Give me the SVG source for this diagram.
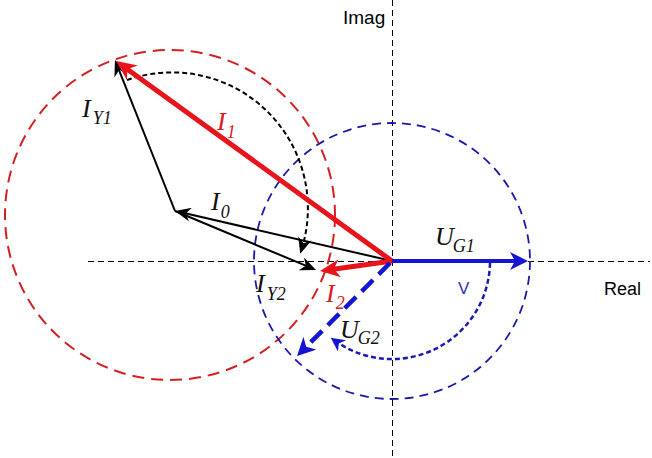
<svg xmlns="http://www.w3.org/2000/svg" width="652" height="458" viewBox="0 0 652 458">
<style>
.axis{stroke:#000;stroke-width:1;stroke-dasharray:6 4;fill:none}
.rc{stroke:#d42020;stroke-width:2;stroke-dasharray:12 7;fill:none}
.bc{stroke:#1a1aa8;stroke-width:1.8;stroke-dasharray:9 6;fill:none}
.blk{stroke:#000;stroke-width:2;fill:none}
.red{stroke:#e8141c;stroke-width:5;fill:none}
.blu{stroke:#1414d2;stroke-width:4;fill:none}
.bld{stroke:#1414d2;stroke-width:4.5;stroke-dasharray:16 8;fill:none}
.karc{stroke:#000;stroke-width:2;stroke-dasharray:5 3;fill:none}
.barc{stroke:#1a1ab4;stroke-width:2.5;stroke-dasharray:5 3;fill:none}
.lab{font-family:"Liberation Serif","Times New Roman",serif;font-style:italic;font-size:26px;fill:#111}
.sub{font-size:18px}
.rl{fill:#d82020}
.ax{font-family:"Liberation Sans",Arial,sans-serif;font-size:18px;fill:#000}
</style>
<defs>
<marker id="ak" viewBox="-16 -7 16 14" refX="-6" refY="0" markerWidth="16" markerHeight="14" markerUnits="userSpaceOnUse" orient="auto"><path d="M0,0 L-16,-7 L-11,0 L-16,7 z" fill="#000"/></marker>
<marker id="ar" viewBox="-20 -9 20 18" refX="-8" refY="0" markerWidth="20" markerHeight="18" markerUnits="userSpaceOnUse" orient="auto"><path d="M0,0 L-20,-9 L-14,0 L-20,9 z" fill="#e8141c"/></marker>
<marker id="ab" viewBox="-18 -9 18 18" refX="-8" refY="0" markerWidth="18" markerHeight="18" markerUnits="userSpaceOnUse" orient="auto"><path d="M0,0 L-18,-9 L-13,0 L-18,9 z" fill="#1414d2"/></marker>
<marker id="abs" viewBox="-14 -7 14 14" refX="-4" refY="0" markerWidth="14" markerHeight="14" markerUnits="userSpaceOnUse" orient="auto"><path d="M0,0 L-14,-7 L-10,0 L-14,7 z" fill="#1414d2"/></marker>
</defs>
<g id="axes">
<line class="axis" x1="88" y1="261.5" x2="650" y2="261.5"/>
<line class="axis" x1="392.5" y1="0" x2="392.5" y2="458"/>
</g>
<g id="circles">
<circle class="rc" cx="170" cy="215" r="165"/>
<circle class="bc" cx="392" cy="261" r="138"/>
</g>
<g id="connectors">
<path class="karc" d="M127,80 A136,136 0 0 1 302,248" marker-end="url(#ak)"/>
<path class="barc" d="M490,263 A98,98 0 0 1 334,340" marker-end="url(#abs)"/>
<line class="blk" x1="175" y1="211" x2="117.2" y2="65.6" marker-end="url(#ak)"/>
<line class="blk" x1="392" y1="261" x2="180.8" y2="212.3" marker-end="url(#ak)"/>
<line class="blk" x1="175" y1="211" x2="310.5" y2="267.7" marker-end="url(#ak)"/>
<line class="red" x1="392" y1="261" x2="122.5" y2="65.7" marker-end="url(#ar)"/>
<line class="red" x1="392" y1="261" x2="327.9" y2="269.9" marker-end="url(#ar)"/>
<line class="blu" x1="392" y1="261" x2="520" y2="261" marker-end="url(#ab)"/>
<line class="bld" x1="390" y1="263" x2="302.7" y2="350.3" marker-end="url(#ab)"/>
</g>
<g id="label-imag"><text class="ax" x="343" y="24" style="font-size:19px">Imag</text></g>
<g id="label-real"><text class="ax" x="604" y="295">Real</text></g>
<g id="label-v"><text class="ax" x="458" y="294" style="fill:#3030c0;font-size:17px">V</text></g>
<g id="label-IY1"><text class="lab" x="82" y="117">I<tspan class="sub" dx="2" dy="7">Y1</tspan></text></g>
<g id="label-I1"><text class="lab rl" x="217" y="130">I<tspan class="sub" dx="1" dy="8">1</tspan></text></g>
<g id="label-I0"><text class="lab" x="211" y="210">I<tspan class="sub" dx="1" dy="8">0</tspan></text></g>
<g id="label-IY2"><text class="lab" x="256" y="292">I<tspan class="sub" dx="2" dy="8">Y2</tspan></text></g>
<g id="label-I2"><text class="lab rl" x="326" y="302">I<tspan class="sub" dx="1" dy="7">2</tspan></text></g>
<g id="label-UG1"><text class="lab" x="435" y="245">U<tspan class="sub" dx="-1" dy="7">G1</tspan></text></g>
<g id="label-UG2"><text class="lab" x="340" y="338">U<tspan class="sub" dx="-1" dy="6">G2</tspan></text></g>
</svg>
